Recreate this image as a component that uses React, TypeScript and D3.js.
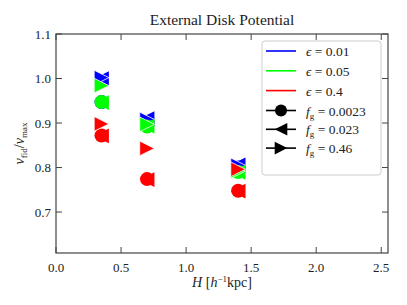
import React from 'react'
import * as d3 from 'd3'

// H values [h^-1 kpc]
const H = [0.35, 0.7, 1.4]

const epsLabels = ['0.01', '0.05', '0.4']
const epsColors = ['#0000ff', '#00ff00', '#ff0000']
const fgLabels = ['0.0023', '0.023', '0.46']
const fgMarkers = ['circle', 'left', 'right']

// v_fid / v_max, one array per (epsilon, f_g) pair, indexed by H
const blueCircle = [0.947, 0.893, 0.8]
const blueLeft = [1.0, 0.91, 0.806]
const blueRight = [1.002, 0.908, 0.805]
const greenCircle = [0.947, 0.892, 0.79]
const greenLeft = [0.946, 0.893, 0.789]
const greenRight = [0.984, 0.897, 0.792]
const redCircle = [0.872, 0.774, 0.748]
const redLeft = [0.871, 0.773, 0.747]
const redRight = [0.898, 0.843, 0.796]

const series = [
  [blueCircle, blueLeft, blueRight],
  [greenCircle, greenLeft, greenRight],
  [redCircle, redLeft, redRight],
]

const xTicks = [0.0, 0.5, 1.0, 1.5, 2.0, 2.5]
const yTicks = [0.7, 0.8, 0.9, 1.0, 1.1]

const W = 407
const Hgt = 305
const m = { left: 56, right: 19, top: 34, bottom: 52 }
const font = '"Liberation Serif", "DejaVu Serif", serif'

function marker(kind: string, r: number) {
  if (kind === 'circle') return d3.symbol(d3.symbolCircle, Math.PI * r * r)()!.toString()
  const s = r * 1.05
  if (kind === 'left') return `M${-s},0L${s},${-s}L${s},${s}Z`
  return `M${s},0L${-s},${-s}L${-s},${s}Z`
}

export default function App() {
  const x = d3.scaleLinear().domain([0, 2.552]).range([m.left, W - m.right])
  const y = d3.scaleLinear().domain([0.608, 1.1]).range([Hgt - m.bottom, m.top])
  const [x0, x1] = x.range()
  const [y0, y1] = y.range()
  const spine = '#444'

  return (
    <svg width={W} height={Hgt} style={{ position: 'absolute', left: 0, top: 0 }} fontFamily={font}>
      <rect width={W} height={Hgt} fill="white" />
      {/* markers, drawn colour by colour */}
      <g>
        {series.map((s, ei) =>
          s.map((vals, fi) =>
            vals.map((v, hi) => (
              <path
                key={`${ei}-${fi}-${hi}`}
                d={marker(fgMarkers[fi], 7)}
                transform={`translate(${x(H[hi])},${y(v)})`}
                fill={epsColors[ei]}
                stroke={fi === 2 ? 'white' : 'none'}
                strokeWidth={0.8}
              />
            ))
          )
        )}
      </g>
      {/* axes frame */}
      <rect x={x0} y={y1} width={x1 - x0} height={y0 - y1} fill="none" stroke={spine} strokeWidth={1.2} />
      {xTicks.map(t => (
        <g key={'x' + t}>
          <line x1={x(t)} x2={x(t)} y1={y0} y2={y0 - 6} stroke={spine} />
          <line x1={x(t)} x2={x(t)} y1={y1} y2={y1 + 6} stroke={spine} />
          <text x={x(t)} y={y0 + 19} textAnchor="middle" fontSize={13} fill="#222">{t.toFixed(1)}</text>
        </g>
      ))}
      {yTicks.map(t => (
        <g key={'y' + t}>
          <line x1={x0} x2={x0 + 6} y1={y(t)} y2={y(t)} stroke={spine} />
          <line x1={x1} x2={x1 - 6} y1={y(t)} y2={y(t)} stroke={spine} />
          <text x={x0 - 5} y={y(t) + 4.5} textAnchor="end" fontSize={13} fill="#222">{t.toFixed(1)}</text>
        </g>
      ))}
      <text x={(x0 + x1) / 2} y={25} textAnchor="middle" fontSize={15.5} fill="#222">External Disk Potential</text>
      <text x={(x0 + x1) / 2} y={287} textAnchor="middle" fontSize={14} fill="#222">
        <tspan fontStyle="italic">H</tspan> [<tspan fontStyle="italic">h</tspan>
        <tspan dy={-5} fontSize={9}>−1</tspan>
        <tspan dy={5}>kpc]</tspan>
      </text>
      <text transform={`translate(24,${(y0 + y1) / 2}) rotate(-90)`} textAnchor="middle" fontSize={14} fill="#222">
        <tspan fontStyle="italic">v</tspan>
        <tspan dy={3} fontSize={9}>fid</tspan>
        <tspan dy={-3}>/</tspan>
        <tspan fontStyle="italic">v</tspan>
        <tspan dy={3} fontSize={9}>max</tspan>
      </text>
      {/* legend */}
      <g>
        <rect x={262} y={41} width={119} height={134} rx={3} fill="white" fillOpacity={0.85} stroke="#ccc" />
        {epsLabels.map((l, i) => (
          <g key={'e' + l} transform={`translate(0,${51 + i * 19.8})`}>
            <line x1={266} x2={296} stroke={epsColors[i]} strokeWidth={1.6} />
            <text x={306} y={5} fontSize={13.5} fill="#222">
              <tspan fontStyle="italic">ϵ</tspan> = {l}
            </text>
          </g>
        ))}
        {fgLabels.map((l, i) => (
          <g key={'f' + l} transform={`translate(0,${110.5 + i * 18.8})`}>
            <line x1={266} x2={296} stroke="black" strokeWidth={1.6} />
            <path d={marker(fgMarkers[i], 6)} transform="translate(281,0)" fill="black" />
            <text x={306} y={5} fontSize={13.5} fill="#222">
              <tspan fontStyle="italic">f</tspan>
              <tspan dy={3} fontSize={9}>g</tspan>
              <tspan dy={-3}> = {l}</tspan>
            </text>
          </g>
        ))}
      </g>
    </svg>
  )
}
